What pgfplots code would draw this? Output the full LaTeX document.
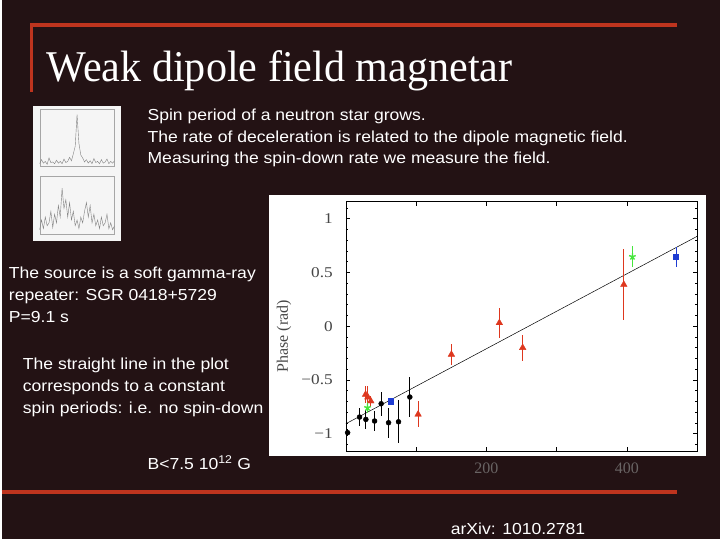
\documentclass[border=0pt]{standalone}
\usepackage{pgfplots}
\pgfplotsset{compat=1.18}
\usepackage{fontspec}
\setmainfont{Liberation Serif}
\setsansfont{Liberation Sans}
\definecolor{bg}{RGB}{35,18,20}
\definecolor{rulec}{RGB}{190,52,30}
\definecolor{pred}{RGB}{222,55,30}
\definecolor{pblue}{RGB}{30,60,210}
\definecolor{pgreen}{RGB}{70,230,60}
\definecolor{ticktxt}{RGB}{70,70,70}
\definecolor{xlab}{RGB}{105,100,100}

\pgfplotstableread{
x y e
2.4 -0.99 0.03
19.4 -0.845 0.08
28.4 -0.867 0.085
40.8 -0.882 0.095
50.2 -0.721 0.11
60.7 -0.898 0.14
74.9 -0.889 0.2
91 -0.659 0.19
}\blackpts
\pgfplotstableread{
x y e
63.5 -0.697 0.02
470 0.647 0.093
}\bluepts
\pgfplotstableread{
x y e
30.8 -0.758 0.05
408 0.647 0.095
}\greenpts
\pgfplotstableread{
x y e
28 -0.635 0.08
31.3 -0.66 0.1
35.5 -0.697 0.05
102.8 -0.82 0.12
150.2 -0.263 0.095
218.5 0.031 0.14
251.7 -0.2 0.12
395.7 0.387 0.33
}\redpts

\begin{document}
\begin{tikzpicture}
\fill[bg] (0,0) rectangle (720pt,-540pt);
\draw[rulec, line width=3.5pt] (30pt,-92pt) -- (30pt,-25pt) -- (677pt,-25pt);
\draw[rulec, line width=3.5pt] (0pt,-493pt) -- (677pt,-493pt);
\node[anchor=base west, white, inner sep=0pt, xscale=0.96, font=\fontsize{44}{50}\selectfont] at (45pt,-82pt) {Weak dipole field magnetar};

\begin{scope}[every node/.style={anchor=base west, white, inner sep=0pt, xscale=1.1, font=\sffamily\fontsize{16}{19}\selectfont}]
\node at (146pt,-121pt) {Spin period of a neutron star grows.};
\node at (146pt,-143pt) {The rate of deceleration is related to the dipole magnetic field.};
\node at (146pt,-164pt) {Measuring the spin-down rate we measure the field.};
\node at (7pt,-279pt) {The source is a soft gamma-ray};
\node at (7pt,-301pt) {repeater: SGR 0418+5729};
\node at (7pt,-323pt) {P=9.1 s};
\node at (21pt,-370pt) {The straight line in the plot};
\node at (21pt,-392pt) {corresponds to a constant};
\node at (21pt,-414pt) {spin periods: i.e. no spin-down};
\node at (146pt,-471pt) {B<7.5 10\textsuperscript{12} G};
\node at (450pt,-536pt) {arXiv: 1010.2781};
\end{scope}

% thumbnail
\fill[white!92!gray] (31pt,-106pt) rectangle (120pt,-242pt);
\begin{axis}[at={(38pt,-167pt)}, anchor=south west, width=75pt, height=58pt, scale only axis,
  xmin=0, xmax=40, ymin=0, ymax=10, ticks=none, axis line style={gray!70, line width=0.3pt}]
\addplot[gray, line width=0.4pt] coordinates {(0,0.5)(1,1.2)(2,0.6)(3,0.9)(4,0.4)(5,1.5)(6,0.7)(7,0.8)(8,0.5)(9,1.1)(10,0.6)(11,0.9)(12,0.5)(13,1.3)(14,0.7)(15,0.9)(16,1.6)(17,1.0)(18,2.2)(19,3.5)(20,9.0)(21,4.0)(22,2.0)(23,1.5)(24,0.8)(25,1.2)(26,0.6)(27,1.0)(28,0.5)(29,1.4)(30,0.7)(31,0.9)(32,0.5)(33,1.2)(34,0.6)(35,0.8)(36,1.3)(37,0.5)(38,0.9)(39,0.6)(40,1.0)};
\end{axis}
\begin{axis}[at={(38pt,-235pt)}, anchor=south west, width=75pt, height=58pt, scale only axis,
  xmin=0, xmax=40, ymin=0, ymax=10, ticks=none, axis line style={gray!70, line width=0.3pt}]
\addplot[gray, line width=0.4pt] coordinates {(0,0.8)(1,2.5)(2,1.0)(3,3.0)(4,1.5)(5,2.0)(6,4.0)(7,1.2)(8,3.5)(9,2.0)(10,5.0)(11,3.0)(12,8.0)(13,4.5)(14,6.0)(15,3.0)(16,5.5)(17,2.5)(18,4.0)(19,1.5)(20,2.5)(21,1.0)(22,3.0)(23,2.0)(24,4.0)(25,5.5)(26,3.0)(27,5.0)(28,2.0)(29,3.5)(30,1.5)(31,2.5)(32,1.0)(33,3.0)(34,1.5)(35,2.0)(36,3.5)(37,1.0)(38,2.0)(39,0.8)(40,1.5)};
\end{axis}

% main plot
\fill[white] (268pt,-195pt) rectangle (706pt,-457pt);
\node[rotate=90, font=\fontsize{16}{18}\selectfont, ticktxt] at (283pt,-337pt) {Phase (rad)};
\begin{axis}[at={(345pt,-452pt)}, anchor=south west, width=352pt, height=250pt, scale only axis,
  xmin=0, xmax=500, ymin=-1.16, ymax=1.16,
  xtick={0,100,200,300,400,500}, xticklabels={,,200,,400,},
  ytick={-1,-0.5,0,0.5,1}, yticklabels={−1,−0.5,0,0.5,1},
  minor ytick={-1.1,-0.9,-0.8,-0.7,-0.6,-0.4,-0.3,-0.2,-0.1,0.1,0.2,0.3,0.4,0.6,0.7,0.8,0.9,1.1},
  tick align=inside, major tick length=4pt, minor tick length=2.5pt,
  tick style={black, line width=0.6pt},
  axis line style={black, line width=0.8pt},
  xticklabel style={font=\fontsize{16}{18}\selectfont, text=xlab, yshift=-8pt},
  yticklabel style={font=\fontsize{15}{17}\selectfont, text=ticktxt, xscale=1.15, xshift=-8pt},
  /pgf/number format/assume math mode=true,
  error bars/error bar style={line width=0.8pt},
  error bars/error mark=none, clip=false]
\addplot[black, line width=0.5pt] coordinates {(0,-0.907)(500,0.836)};
\addplot[only marks, black, mark=*, mark size=2.5pt, error bars/.cd, y dir=both, y explicit] table[x=x,y=y,y error=e]{\blackpts};
\addplot[only marks, pred, mark=triangle*, mark size=3.8pt, error bars/.cd, y dir=both, y explicit] table[x=x,y=y,y error=e]{\redpts};
\addplot[only marks, pblue, mark=square*, mark size=2.6pt, error bars/.cd, y dir=both, y explicit] table[x=x,y=y,y error=e]{\bluepts};
\addplot[only marks, pgreen, mark=star, mark size=3.5pt, mark options={line width=1.4pt}, error bars/.cd, y dir=both, y explicit] table[x=x,y=y,y error=e]{\greenpts};
\end{axis}
\end{tikzpicture}
\end{document}
